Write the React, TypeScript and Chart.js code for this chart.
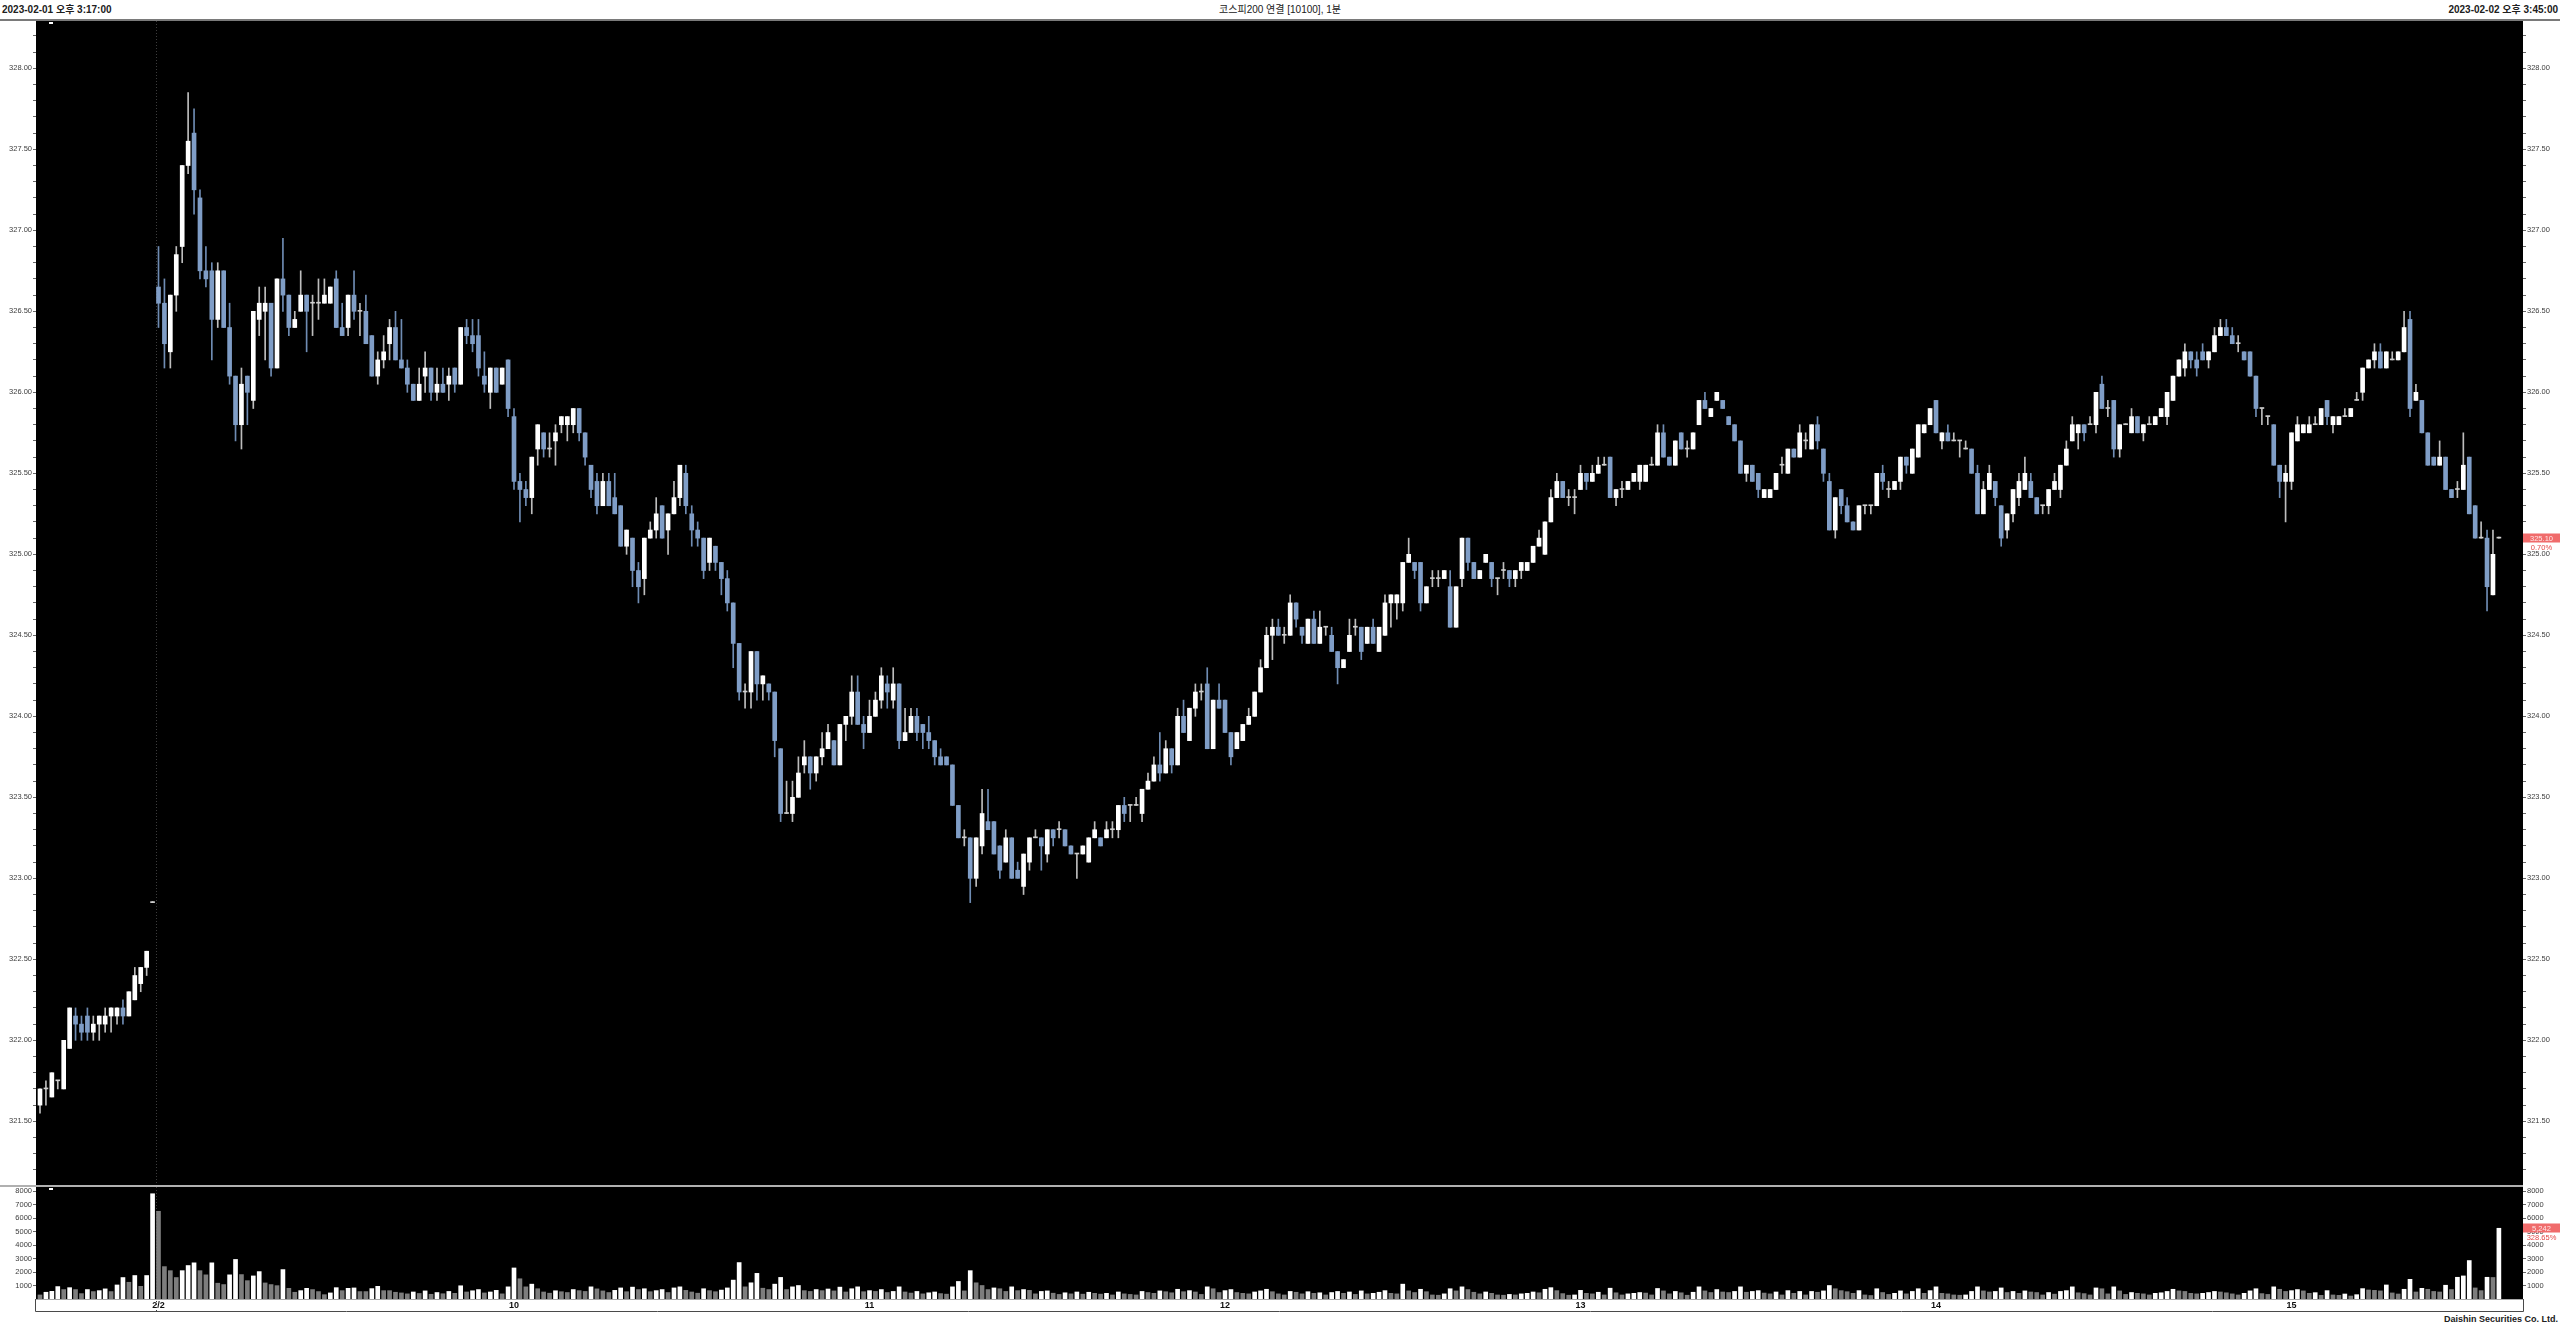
import React, { useEffect, useRef } from 'react';
import { Chart, registerables } from 'chart.js';
Chart.register(...registerables);

// ---- texts ----
const START_TEXT = '2023-02-01 오후 3:17:00';
const END_TEXT = '2023-02-02 오후 3:45:00';
const TITLE_TEXT = '코스피200 연결 [10100], 1분';
const FOOTER_TEXT = 'Daishin Securities Co. Ltd.';

// ---- axis tick labels ----
const X_TICK_AT = [20, 80, 140, 200, 260, 320, 380];
const X_TICK_LABELS = ['2/2', '10', '11', '12', '13', '14', '15'];
const VOL_TICKS = [1000, 2000, 3000, 4000, 5000, 6000, 7000, 8000];
const DAY_BREAK_AT = 19.5;
const PREV_DAY_LAST_INDEX = 19;

// ---- 1-minute OHLC (20 candles of 2/1, then 396 of 2/2) ----
const OPEN = [
  321.60, 321.70, 321.65, 321.75, 321.70, 321.95, 322.15, 322.10, 322.15, 322.05,
  322.10, 322.10, 322.15, 322.15, 322.20, 322.15, 322.25, 322.35, 322.45, 322.85,
  326.65, 326.55, 326.25, 326.60, 326.90, 327.40, 327.60, 327.20, 326.75, 326.75,
  326.45, 326.75, 326.40, 326.10, 325.80, 326.10, 325.95, 326.45, 326.50, 326.55,
  326.15, 326.70, 326.60, 326.40, 326.50, 326.60, 326.55, 326.55, 326.55, 326.55,
  326.70, 326.40, 326.40, 326.60, 326.50, 326.50, 326.35, 326.10, 326.20, 326.30,
  326.40, 326.20, 326.15, 326.05, 325.95, 326.10, 326.15, 326.00, 326.05, 326.05,
  326.15, 326.05, 326.40, 326.35, 326.35, 326.10, 326.00, 326.15, 326.05, 326.20,
  325.85, 325.45, 325.40, 325.35, 325.65, 325.75, 325.65, 325.70, 325.80, 325.80,
  325.80, 325.90, 325.75, 325.55, 325.45, 325.30, 325.45, 325.35, 325.30, 325.05,
  325.10, 324.90, 324.85, 325.10, 325.15, 325.30, 325.15, 325.25, 325.35, 325.50,
  325.25, 325.15, 325.10, 324.95, 325.05, 324.95, 324.85, 324.70, 324.45, 324.15,
  324.15, 324.40, 324.20, 324.20, 324.15, 323.80, 323.40, 323.40, 323.50, 323.70,
  323.75, 323.65, 323.75, 323.80, 323.85, 323.70, 323.95, 324.00, 324.15, 323.95,
  323.90, 324.00, 324.10, 324.20, 324.10, 324.20, 323.85, 323.90, 324.00, 323.95,
  323.90, 323.85, 323.75, 323.75, 323.70, 323.45, 323.25, 323.25, 323.00, 323.20,
  323.35, 323.35, 323.20, 323.10, 323.25, 323.05, 322.95, 323.10, 323.25, 323.25,
  323.15, 323.30, 323.30, 323.30, 323.20, 323.15, 323.15, 323.10, 323.25, 323.25,
  323.25, 323.30, 323.30, 323.45, 323.45, 323.45, 323.40, 323.55, 323.60, 323.70,
  323.65, 323.80, 323.70, 324.00, 323.85, 324.05, 324.15, 324.20, 323.80, 324.10,
  324.10, 323.90, 323.80, 323.85, 323.95, 324.00, 324.15, 324.30, 324.50, 324.55,
  324.50, 324.50, 324.70, 324.55, 324.45, 324.60, 324.45, 324.55, 324.50, 324.40,
  324.30, 324.40, 324.55, 324.55, 324.45, 324.55, 324.40, 324.50, 324.70, 324.70,
  324.70, 324.95, 324.95, 324.95, 324.70, 324.85, 324.85, 324.85, 324.80, 324.55,
  324.85, 325.10, 324.95, 324.85, 324.95, 324.95, 324.85, 324.90, 324.90, 324.85,
  324.90, 324.90, 324.95, 325.05, 325.00, 325.20, 325.35, 325.45, 325.35, 325.35,
  325.40, 325.50, 325.45, 325.50, 325.55, 325.60, 325.35, 325.40, 325.40, 325.45,
  325.45, 325.45, 325.55, 325.55, 325.75, 325.60, 325.55, 325.75, 325.65, 325.65,
  325.80, 325.95, 325.85, 325.95, 325.95, 325.85, 325.80, 325.70, 325.50, 325.55,
  325.50, 325.35, 325.35, 325.40, 325.55, 325.50, 325.65, 325.60, 325.70, 325.65,
  325.80, 325.65, 325.45, 325.15, 325.40, 325.30, 325.20, 325.15, 325.30, 325.30,
  325.30, 325.50, 325.40, 325.40, 325.45, 325.60, 325.50, 325.60, 325.75, 325.80,
  325.95, 325.70, 325.75, 325.70, 325.70, 325.65, 325.65, 325.50, 325.25, 325.40,
  325.45, 325.30, 325.15, 325.25, 325.35, 325.40, 325.45, 325.35, 325.30, 325.30,
  325.40, 325.40, 325.55, 325.70, 325.75, 325.80, 325.80, 325.80, 326.05, 325.90,
  325.95, 325.65, 325.80, 325.75, 325.85, 325.75, 325.80, 325.80, 325.85, 325.85,
  325.95, 326.10, 326.15, 326.25, 326.20, 326.25, 326.20, 326.25, 326.35, 326.40,
  326.35, 326.30, 326.25, 326.25, 326.10, 325.90, 325.85, 325.80, 325.55, 325.45,
  325.45, 325.70, 325.75, 325.75, 325.80, 325.80, 325.95, 325.80, 325.80, 325.85,
  325.85, 325.95, 326.00, 326.15, 326.20, 326.25, 326.15, 326.20, 326.20, 326.25,
  326.45, 325.95, 325.95, 325.75, 325.60, 325.55, 325.60, 325.40, 325.40, 325.40,
  325.60, 325.30, 325.10, 325.10, 324.75, 325.10,
];
const HIGH = [
  321.70, 321.75, 321.80, 321.75, 322.00, 322.20, 322.20, 322.15, 322.20, 322.15,
  322.15, 322.20, 322.20, 322.20, 322.25, 322.30, 322.45, 322.45, 322.55, 322.85,
  326.90, 326.70, 326.60, 326.90, 327.40, 327.85, 327.75, 327.25, 326.90, 326.80,
  326.80, 326.75, 326.55, 326.10, 326.15, 326.10, 326.50, 326.65, 326.65, 326.55,
  326.70, 326.95, 326.60, 326.50, 326.75, 326.60, 326.60, 326.70, 326.70, 326.65,
  326.75, 326.55, 326.60, 326.75, 326.55, 326.60, 326.35, 326.25, 326.35, 326.45,
  326.50, 326.45, 326.20, 326.05, 326.15, 326.25, 326.15, 326.15, 326.15, 326.15,
  326.15, 326.40, 326.45, 326.45, 326.45, 326.25, 326.15, 326.15, 326.15, 326.20,
  325.90, 325.50, 325.45, 325.60, 325.80, 325.75, 325.75, 325.80, 325.85, 325.85,
  325.90, 325.90, 325.75, 325.55, 325.50, 325.50, 325.50, 325.50, 325.30, 325.15,
  325.10, 324.95, 325.10, 325.20, 325.35, 325.30, 325.25, 325.45, 325.55, 325.55,
  325.30, 325.20, 325.10, 325.10, 325.05, 324.95, 324.90, 324.70, 324.45, 324.20,
  324.40, 324.40, 324.25, 324.20, 324.15, 323.80, 323.60, 323.60, 323.75, 323.85,
  323.75, 323.75, 323.90, 323.95, 323.85, 323.95, 324.00, 324.25, 324.25, 324.00,
  324.10, 324.15, 324.30, 324.25, 324.30, 324.20, 324.05, 324.05, 324.05, 323.95,
  324.00, 323.85, 323.80, 323.75, 323.70, 323.45, 323.30, 323.25, 323.25, 323.55,
  323.55, 323.35, 323.20, 323.30, 323.25, 323.10, 323.15, 323.25, 323.30, 323.25,
  323.30, 323.30, 323.35, 323.30, 323.20, 323.15, 323.20, 323.25, 323.35, 323.25,
  323.35, 323.35, 323.45, 323.50, 323.45, 323.50, 323.55, 323.65, 323.75, 323.90,
  323.85, 323.80, 324.05, 324.10, 324.05, 324.20, 324.20, 324.30, 324.10, 324.20,
  324.10, 323.90, 323.90, 323.95, 324.05, 324.15, 324.35, 324.55, 324.60, 324.60,
  324.55, 324.75, 324.70, 324.55, 324.60, 324.65, 324.65, 324.55, 324.55, 324.40,
  324.35, 324.60, 324.60, 324.55, 324.55, 324.60, 324.55, 324.75, 324.75, 324.75,
  324.95, 325.10, 324.95, 324.95, 324.80, 324.90, 324.90, 324.90, 324.90, 324.80,
  325.10, 325.10, 324.95, 324.90, 325.00, 324.95, 324.85, 324.95, 324.90, 324.90,
  324.95, 324.95, 325.05, 325.15, 325.20, 325.40, 325.50, 325.45, 325.40, 325.40,
  325.55, 325.50, 325.55, 325.60, 325.60, 325.60, 325.40, 325.45, 325.45, 325.50,
  325.55, 325.55, 325.60, 325.80, 325.80, 325.60, 325.70, 325.75, 325.70, 325.75,
  325.95, 326.00, 325.90, 326.00, 325.95, 325.85, 325.80, 325.70, 325.55, 325.55,
  325.50, 325.40, 325.40, 325.50, 325.60, 325.65, 325.65, 325.80, 325.75, 325.80,
  325.85, 325.65, 325.50, 325.35, 325.40, 325.35, 325.20, 325.30, 325.30, 325.30,
  325.50, 325.55, 325.45, 325.45, 325.60, 325.60, 325.65, 325.80, 325.80, 325.90,
  325.95, 325.75, 325.80, 325.75, 325.70, 325.70, 325.65, 325.55, 325.45, 325.55,
  325.45, 325.30, 325.25, 325.40, 325.50, 325.60, 325.50, 325.35, 325.30, 325.40,
  325.50, 325.55, 325.70, 325.85, 325.80, 325.80, 325.85, 326.00, 326.10, 325.95,
  325.95, 325.80, 325.80, 325.90, 325.85, 325.80, 325.85, 325.85, 325.90, 326.00,
  326.10, 326.20, 326.30, 326.25, 326.25, 326.30, 326.25, 326.40, 326.45, 326.45,
  326.40, 326.35, 326.25, 326.25, 326.10, 325.90, 325.85, 325.80, 325.55, 325.55,
  325.75, 325.85, 325.80, 325.85, 325.85, 325.90, 325.95, 325.85, 325.85, 325.90,
  325.90, 326.00, 326.15, 326.20, 326.30, 326.30, 326.25, 326.25, 326.25, 326.50,
  326.50, 326.05, 325.95, 325.75, 325.60, 325.70, 325.60, 325.40, 325.45, 325.75,
  325.60, 325.30, 325.20, 325.15, 325.15, 325.10,
];
const LOW = [
  321.55, 321.60, 321.65, 321.70, 321.70, 321.95, 322.00, 322.00, 322.00, 322.00,
  322.00, 322.05, 322.05, 322.10, 322.10, 322.15, 322.25, 322.30, 322.40, 322.85,
  326.40, 326.15, 326.15, 326.50, 326.80, 327.35, 327.10, 326.70, 326.65, 326.20,
  326.40, 326.40, 326.05, 325.70, 325.65, 325.80, 325.90, 326.35, 326.20, 326.10,
  326.15, 326.50, 326.35, 326.40, 326.50, 326.25, 326.35, 326.45, 326.55, 326.55,
  326.40, 326.35, 326.35, 326.45, 326.35, 326.30, 326.10, 326.05, 326.15, 326.20,
  326.20, 326.15, 326.00, 325.95, 325.95, 326.00, 325.95, 325.95, 326.00, 325.95,
  326.00, 326.05, 326.30, 326.25, 326.10, 326.00, 325.90, 326.00, 326.05, 325.85,
  325.40, 325.20, 325.30, 325.25, 325.55, 325.60, 325.60, 325.55, 325.75, 325.70,
  325.75, 325.70, 325.55, 325.35, 325.25, 325.30, 325.30, 325.25, 325.05, 325.00,
  324.80, 324.70, 324.75, 325.10, 325.10, 325.10, 325.00, 325.25, 325.30, 325.25,
  325.05, 325.05, 324.85, 324.90, 324.90, 324.75, 324.65, 324.30, 324.10, 324.05,
  324.05, 324.10, 324.10, 324.10, 323.75, 323.35, 323.40, 323.35, 323.50, 323.65,
  323.55, 323.60, 323.70, 323.80, 323.70, 323.70, 323.85, 323.95, 323.95, 323.80,
  323.90, 324.00, 324.05, 324.05, 324.05, 323.80, 323.85, 323.90, 323.85, 323.80,
  323.80, 323.70, 323.70, 323.70, 323.45, 323.25, 323.20, 322.85, 322.95, 323.15,
  323.30, 323.15, 323.00, 323.10, 323.00, 323.00, 322.90, 323.05, 323.25, 323.05,
  323.10, 323.20, 323.25, 323.20, 323.15, 323.00, 323.15, 323.10, 323.25, 323.20,
  323.25, 323.25, 323.25, 323.35, 323.35, 323.45, 323.35, 323.55, 323.60, 323.60,
  323.65, 323.65, 323.70, 323.90, 323.85, 324.00, 324.10, 323.80, 323.80, 324.05,
  323.90, 323.70, 323.80, 323.85, 323.95, 324.00, 324.15, 324.30, 324.35, 324.50,
  324.45, 324.50, 324.55, 324.45, 324.45, 324.45, 324.45, 324.50, 324.40, 324.20,
  324.30, 324.40, 324.50, 324.35, 324.45, 324.45, 324.40, 324.50, 324.55, 324.60,
  324.65, 324.95, 324.85, 324.65, 324.70, 324.80, 324.80, 324.85, 324.55, 324.55,
  324.80, 324.90, 324.85, 324.85, 324.95, 324.80, 324.75, 324.85, 324.80, 324.80,
  324.85, 324.90, 324.95, 325.05, 325.00, 325.20, 325.35, 325.35, 325.30, 325.25,
  325.40, 325.40, 325.45, 325.50, 325.55, 325.35, 325.30, 325.35, 325.40, 325.45,
  325.40, 325.45, 325.55, 325.55, 325.60, 325.55, 325.55, 325.65, 325.60, 325.65,
  325.80, 325.90, 325.85, 325.95, 325.90, 325.80, 325.70, 325.50, 325.45, 325.45,
  325.35, 325.35, 325.35, 325.40, 325.50, 325.50, 325.60, 325.60, 325.65, 325.65,
  325.65, 325.45, 325.15, 325.10, 325.25, 325.20, 325.15, 325.15, 325.25, 325.25,
  325.30, 325.40, 325.35, 325.40, 325.40, 325.50, 325.50, 325.60, 325.75, 325.80,
  325.75, 325.65, 325.70, 325.70, 325.60, 325.65, 325.50, 325.25, 325.25, 325.40,
  325.30, 325.05, 325.10, 325.20, 325.30, 325.40, 325.35, 325.25, 325.25, 325.25,
  325.40, 325.35, 325.55, 325.70, 325.65, 325.70, 325.80, 325.75, 325.90, 325.85,
  325.60, 325.60, 325.80, 325.75, 325.75, 325.70, 325.80, 325.80, 325.85, 325.80,
  325.95, 326.10, 326.10, 326.15, 326.10, 326.20, 326.15, 326.25, 326.35, 326.35,
  326.30, 326.25, 326.20, 326.10, 325.85, 325.80, 325.80, 325.55, 325.35, 325.20,
  325.40, 325.70, 325.75, 325.75, 325.80, 325.80, 325.80, 325.75, 325.80, 325.85,
  325.85, 325.95, 325.95, 326.15, 326.15, 326.15, 326.15, 326.20, 326.20, 326.25,
  325.85, 325.95, 325.75, 325.55, 325.55, 325.55, 325.40, 325.35, 325.35, 325.40,
  325.25, 325.10, 325.10, 324.65, 324.75, 325.10,
];
const CLOSE = [
  321.70, 321.70, 321.80, 321.75, 322.00, 322.20, 322.10, 322.05, 322.05, 322.10,
  322.15, 322.15, 322.20, 322.20, 322.15, 322.30, 322.40, 322.45, 322.55, 322.85,
  326.55, 326.30, 326.60, 326.85, 327.40, 327.55, 327.25, 326.75, 326.70, 326.45,
  326.75, 326.40, 326.10, 325.80, 326.05, 326.00, 326.50, 326.55, 326.55, 326.15,
  326.70, 326.60, 326.40, 326.45, 326.60, 326.50, 326.55, 326.55, 326.60, 326.65,
  326.40, 326.35, 326.60, 326.50, 326.50, 326.30, 326.10, 326.20, 326.25, 326.40,
  326.20, 326.15, 326.05, 325.95, 326.05, 326.15, 326.00, 326.05, 326.00, 326.10,
  326.05, 326.40, 326.35, 326.30, 326.15, 326.05, 326.15, 326.00, 326.15, 325.90,
  325.45, 325.40, 325.35, 325.60, 325.80, 325.65, 325.65, 325.75, 325.85, 325.85,
  325.90, 325.75, 325.60, 325.40, 325.30, 325.45, 325.30, 325.25, 325.05, 325.15,
  324.90, 324.80, 325.10, 325.15, 325.25, 325.10, 325.25, 325.35, 325.55, 325.30,
  325.15, 325.10, 324.90, 325.10, 324.95, 324.85, 324.70, 324.45, 324.15, 324.15,
  324.40, 324.20, 324.25, 324.15, 323.85, 323.40, 323.40, 323.50, 323.65, 323.75,
  323.65, 323.75, 323.80, 323.90, 323.70, 323.95, 324.00, 324.15, 323.95, 323.90,
  324.00, 324.10, 324.25, 324.15, 324.20, 323.85, 323.90, 324.00, 323.90, 323.90,
  323.85, 323.75, 323.70, 323.70, 323.45, 323.25, 323.25, 323.00, 323.25, 323.40,
  323.30, 323.15, 323.05, 323.25, 323.00, 323.00, 323.15, 323.25, 323.25, 323.20,
  323.30, 323.25, 323.30, 323.20, 323.15, 323.15, 323.20, 323.25, 323.30, 323.20,
  323.30, 323.30, 323.45, 323.40, 323.45, 323.45, 323.55, 323.60, 323.70, 323.65,
  323.80, 323.70, 324.00, 323.90, 324.05, 324.15, 324.15, 323.80, 324.10, 324.05,
  323.90, 323.75, 323.90, 323.95, 324.00, 324.15, 324.30, 324.50, 324.55, 324.50,
  324.50, 324.70, 324.60, 324.50, 324.60, 324.45, 324.55, 324.55, 324.40, 324.30,
  324.35, 324.50, 324.55, 324.40, 324.55, 324.45, 324.55, 324.70, 324.75, 324.75,
  324.95, 325.00, 324.90, 324.70, 324.80, 324.85, 324.85, 324.90, 324.55, 324.80,
  325.10, 324.95, 324.85, 324.90, 325.00, 324.85, 324.85, 324.90, 324.85, 324.90,
  324.95, 324.95, 325.05, 325.10, 325.20, 325.35, 325.45, 325.35, 325.35, 325.35,
  325.50, 325.45, 325.50, 325.55, 325.55, 325.35, 325.40, 325.40, 325.45, 325.50,
  325.55, 325.55, 325.55, 325.75, 325.60, 325.55, 325.70, 325.65, 325.65, 325.75,
  325.95, 325.90, 325.90, 326.00, 325.90, 325.80, 325.70, 325.50, 325.55, 325.45,
  325.40, 325.40, 325.40, 325.50, 325.55, 325.65, 325.60, 325.75, 325.70, 325.80,
  325.70, 325.50, 325.15, 325.35, 325.30, 325.20, 325.15, 325.30, 325.30, 325.30,
  325.50, 325.45, 325.40, 325.45, 325.60, 325.55, 325.65, 325.80, 325.80, 325.90,
  325.75, 325.75, 325.70, 325.70, 325.70, 325.65, 325.50, 325.25, 325.40, 325.50,
  325.35, 325.10, 325.25, 325.40, 325.45, 325.50, 325.35, 325.25, 325.30, 325.40,
  325.45, 325.55, 325.65, 325.80, 325.80, 325.75, 325.80, 326.00, 325.90, 325.90,
  325.65, 325.80, 325.80, 325.85, 325.75, 325.80, 325.80, 325.85, 325.90, 326.00,
  326.10, 326.20, 326.25, 326.20, 326.15, 326.20, 326.25, 326.35, 326.40, 326.35,
  326.30, 326.30, 326.20, 326.10, 325.90, 325.90, 325.85, 325.55, 325.45, 325.50,
  325.75, 325.80, 325.80, 325.80, 325.80, 325.90, 325.85, 325.85, 325.85, 325.85,
  325.90, 325.95, 326.15, 326.20, 326.25, 326.15, 326.25, 326.20, 326.25, 326.40,
  325.90, 326.00, 325.75, 325.55, 325.55, 325.60, 325.40, 325.35, 325.40, 325.55,
  325.25, 325.10, 325.10, 324.80, 325.00, 325.10,
];
const VOLUME = [
  300, 500, 570, 920, 700, 840, 700, 400, 700, 550,
  620, 750, 550, 1040, 1590, 1240, 1740, 940, 1740, 7800,
  6500, 2400, 2100, 1590, 2100, 2480, 2680, 2100, 1790, 2680,
  1170, 1070, 1790, 2930, 1810, 1360, 1710, 2030, 1190, 1070,
  990, 2180, 790, 500, 620, 790, 700, 550, 320, 450,
  840, 620, 790, 820, 550, 550, 770, 940, 620, 620,
  500, 450, 380, 520, 410, 600, 350, 480, 390, 560,
  420, 980, 520, 610, 700, 450, 520, 640, 380, 900,
  2300, 1500, 900, 1100, 760, 520, 430, 610, 540, 480,
  700, 620, 560, 900, 750, 600, 480, 640, 820, 540,
  880, 700, 760, 540, 620, 700, 480, 820, 900, 640,
  520, 430, 760, 620, 540, 660, 820, 1400, 2700, 900,
  1200, 1900, 800, 700, 1100, 1600, 700, 900, 1000, 620,
  560, 700, 620, 740, 600, 880, 520, 760, 900, 540,
  620, 560, 700, 480, 560, 900, 520, 440, 560, 380,
  460, 520, 400, 360, 900, 1300, 600, 2100, 1200, 1000,
  700, 820, 760, 560, 900, 620, 700, 640, 380, 560,
  600, 430, 340, 460, 380, 520, 360, 500, 420, 360,
  420, 300, 520, 380, 340, 300, 560, 480, 420, 600,
  540, 460, 720, 540, 620, 520, 340, 900, 760, 480,
  620, 700, 480, 420, 380, 520, 600, 720, 540, 380,
  300, 560, 500, 380, 540, 420, 460, 300, 480, 560,
  420, 520, 340, 600, 380, 420, 500, 620, 420, 380,
  1100, 600, 480, 720, 540, 300, 280, 380, 760, 600,
  900, 700, 500, 380, 520, 420, 300, 280, 340, 300,
  380, 420, 520, 460, 720, 840, 620, 400, 280, 300,
  640, 420, 380, 500, 300, 800, 460, 300, 380, 420,
  480, 440, 300, 780, 600, 380, 560, 460, 280, 500,
  900, 600, 480, 700, 520, 480, 560, 900, 500, 560,
  620, 440, 380, 520, 300, 620, 420, 560, 300, 560,
  500, 600, 1000, 760, 620, 540, 420, 620, 300, 260,
  760, 480, 340, 420, 600, 380, 560, 760, 420, 620,
  900, 420, 380, 300, 280, 300, 560, 900, 600, 520,
  560, 820, 480, 560, 420, 600, 520, 480, 300, 480,
  360, 560, 620, 900, 460, 400, 300, 820, 760, 380,
  900, 600, 340, 480, 420, 380, 300, 420, 460, 560,
  720, 600, 560, 420, 380, 420, 480, 560, 520, 460,
  380, 300, 420, 600, 760, 400, 340, 900, 720, 560,
  620, 700, 600, 420, 470, 270, 620, 300, 270, 370,
  220, 320, 770, 670, 640, 600, 1040, 450, 370, 720,
  1460, 520, 790, 720, 560, 520, 1020, 700, 1610, 1710,
  2850, 820, 620, 1610, 1595, 5242,
];

// ---- layout constants ----
const PAGE_W = 2560;
const PAGE_H = 1328;
const PLOT_LEFT = 36;
const PLOT_RIGHT = 2523;
const PRICE_TOP = 21;
const PRICE_BOTTOM = 1185;
const VOL_TOP = 1187;
const VOL_CANVAS_H = 125;
const X_MIN = -0.675;
const X_MAX = 419.07;
const PRICE_MIN = 321.107;
const PRICE_MAX = 328.292;
const VOL_MAX = 8300;

const UP_BODY = '#ffffff';
const DOWN_BODY = '#7f9dc6';
const FLAT_BODY = '#d0d0d0';
const UP_WICK = '#bdbdbd';
const DOWN_WICK = '#6f8cb3';
const VOL_UP = '#ffffff';
const VOL_DOWN = '#7d7d7d';
const AXIS_FONT = { family: '"Liberation Sans", Arial, sans-serif', size: 7.5 };
const TICK_COLOR = '#3c3c3c';
const RED_BOX = '#f06b6b';
const RED_TEXT = '#e24848';

function zeroPadding(s: any) {
  s.paddingTop = 0;
  s.paddingBottom = 0;
  s.paddingLeft = 0;
  s.paddingRight = 0;
}

function sideAxis(position: 'left' | 'right', min: number, max: number, step: number, fmt: (v: number) => string, fixedTicks?: number[]) {
  const axis: any = {
    type: 'linear',
    position,
    min,
    max,
    afterFit: (s: any) => {
      s.width = position === 'left' ? PLOT_LEFT : PAGE_W - PLOT_RIGHT;
      zeroPadding(s);
    },
    border: { display: false },
    grid: { drawOnChartArea: false, drawTicks: true, tickLength: 3, color: '#666666', lineWidth: 1 },
    ticks: {
      stepSize: step,
      autoSkip: false,
      includeBounds: false,
      padding: 1,
      color: TICK_COLOR,
      font: AXIS_FONT,
      callback: (v: any) => fmt(Number(v)),
    },
  };
  if (fixedTicks) {
    axis.afterBuildTicks = (s: any) => { s.ticks = fixedTicks.map((v) => ({ value: v })); };
  }
  return axis;
}

function markerLabel(ctx: CanvasRenderingContext2D, left: number, y: number, boxText: string, subText: string) {
  ctx.save();
  ctx.fillStyle = RED_BOX;
  ctx.fillRect(left, Math.round(y) - 4.5, PAGE_W - left, 9);
  ctx.font = '7.5px "Liberation Sans", Arial, sans-serif';
  ctx.textAlign = 'center';
  ctx.textBaseline = 'middle';
  const cx = left + (PAGE_W - left) / 2;
  ctx.fillStyle = '#ffe8e8';
  ctx.fillText(boxText, cx, Math.round(y) + 0.5);
  ctx.fillStyle = RED_TEXT;
  ctx.fillText(subText, cx, Math.round(y) + 9.5);
  ctx.restore();
}

export default function App() {
  const priceRef = useRef<HTMLCanvasElement>(null);
  const volRef = useRef<HTMLCanvasElement>(null);

  useEffect(() => {
    const idx = CLOSE.map((_, i) => i);
    const bodyColors = idx.map((i) => (CLOSE[i] > OPEN[i] ? UP_BODY : CLOSE[i] < OPEN[i] ? DOWN_BODY : FLAT_BODY));
    const wickColors = idx.map((i) => (CLOSE[i] < OPEN[i] ? DOWN_WICK : UP_WICK));
    const volColors = idx.map((i) => (i > 0 && VOLUME[i] > VOLUME[i - 1] ? VOL_UP : VOL_DOWN));
    const last = CLOSE.length - 1;
    const prevDayClose = CLOSE[PREV_DAY_LAST_INDEX];
    const pct = ((CLOSE[last] - prevDayClose) / prevDayClose) * 100;
    const volPct = (VOLUME[last] / VOLUME[last - 1]) * 100;

    const priceFmt = (v: number) => (Math.abs(v * 2 - Math.round(v * 2)) < 1e-6 ? v.toFixed(2) : '');
    const volFmt = (v: number) => (v > 0 ? String(Math.round(v)) : '');

    const dayBreakPlugin = {
      id: 'dayBreak',
      beforeDatasetsDraw(chart: any) {
        const { ctx, chartArea, scales } = chart;
        const x = Math.round(scales.x.getPixelForValue(DAY_BREAK_AT)) + 0.5;
        ctx.save();
        ctx.strokeStyle = '#3c3c3c';
        ctx.lineWidth = 1;
        ctx.setLineDash([1, 2]);
        ctx.beginPath();
        ctx.moveTo(x, chartArea.top);
        ctx.lineTo(x, chart.height);
        ctx.stroke();
        ctx.restore();
      },
    };
    const bgPlugin = {
      id: 'bg',
      beforeDraw(chart: any) {
        const { ctx, chartArea } = chart;
        ctx.save();
        ctx.fillStyle = '#000000';
        ctx.fillRect(chartArea.left, chartArea.top, chartArea.right - chartArea.left, chartArea.bottom - chartArea.top);
        ctx.fillStyle = '#ffffff';
        ctx.fillRect(chartArea.left + 13, chartArea.top + 1, 4, 2);
        ctx.restore();
      },
    };

    const priceChart = new Chart(priceRef.current as HTMLCanvasElement, {
      type: 'bar',
      data: {
        datasets: [
          {
            label: 'wick',
            data: idx.map((i) => ({ x: i, y: [LOW[i], HIGH[i]] })) as any,
            backgroundColor: wickColors,
            barThickness: 1,
            minBarLength: 1,
            grouped: false,
            order: 2,
          },
          {
            label: 'body',
            data: idx.map((i) => ({ x: i, y: [OPEN[i], CLOSE[i]] })) as any,
            backgroundColor: bodyColors,
            barThickness: 4,
            minBarLength: 1,
            grouped: false,
            order: 1,
          },
        ],
      },
      options: {
        animation: false,
        responsive: false,
        devicePixelRatio: 1,
        layout: { padding: 0 },
        plugins: { legend: { display: false }, tooltip: { enabled: false } },
        scales: {
          x: { type: 'linear', min: X_MIN, max: X_MAX, display: false, offset: false },
          y: sideAxis('left', PRICE_MIN, PRICE_MAX, 0.1, priceFmt),
          y2: sideAxis('right', PRICE_MIN, PRICE_MAX, 0.1, priceFmt),
        },
      },
      plugins: [
        bgPlugin,
        dayBreakPlugin,
        {
          id: 'priceLabel',
          afterDraw(chart: any) {
            const y = chart.scales.y.getPixelForValue(CLOSE[last]);
            markerLabel(chart.ctx, chart.chartArea.right, y, CLOSE[last].toFixed(2), pct.toFixed(2) + '%');
          },
        },
      ],
    } as any);

    const volChart = new Chart(volRef.current as HTMLCanvasElement, {
      type: 'bar',
      data: {
        datasets: [
          {
            label: 'volume',
            data: idx.map((i) => ({ x: i, y: VOLUME[i] })) as any,
            backgroundColor: volColors,
            barThickness: 4,
            grouped: false,
          },
        ],
      },
      options: {
        animation: false,
        responsive: false,
        devicePixelRatio: 1,
        layout: { padding: 0 },
        plugins: { legend: { display: false }, tooltip: { enabled: false } },
        scales: {
          x: {
            type: 'linear',
            display: true,
            min: X_MIN,
            max: X_MAX,
            offset: false,
            afterFit: (s: any) => { s.height = 13; zeroPadding(s); },
            afterBuildTicks: (s: any) => { s.ticks = X_TICK_AT.map((v) => ({ value: v })); },
            grid: { display: false, drawTicks: false, tickLength: 0 },
            border: { display: true, color: '#a8a8a8', width: 1 },
            ticks: {
              display: true,
              autoSkip: false,
              maxRotation: 0,
              padding: 1,
              color: '#111111',
              font: { family: '"Liberation Sans", Arial, sans-serif', size: 9, weight: 'bold' },
              callback: (v: any) => {
                const k = X_TICK_AT.indexOf(Math.round(Number(v)));
                return k >= 0 ? X_TICK_LABELS[k] : '';
              },
            },
          },
          y: sideAxis('left', 0, VOL_MAX, 1000, volFmt, VOL_TICKS),
          y2: sideAxis('right', 0, VOL_MAX, 1000, volFmt, VOL_TICKS),
        },
      },
      plugins: [
        bgPlugin,
        dayBreakPlugin,
        {
          id: 'volFrame',
          afterDraw(chart: any) {
            const { ctx, chartArea } = chart;
            ctx.save();
            ctx.strokeStyle = '#4a4a4a';
            ctx.lineWidth = 1;
            ctx.beginPath();
            ctx.moveTo(chartArea.left - 0.5, chartArea.bottom);
            ctx.lineTo(chartArea.left - 0.5, chart.height - 0.5);
            ctx.lineTo(chartArea.right + 0.5, chart.height - 0.5);
            ctx.lineTo(chartArea.right + 0.5, chartArea.bottom);
            ctx.stroke();
            ctx.restore();
            const y = chart.scales.y.getPixelForValue(VOLUME[last]);
            markerLabel(ctx, chartArea.right, y, VOLUME[last].toLocaleString('en-US'), volPct.toFixed(2) + '%');
          },
        },
      ],
    } as any);

    return () => {
      priceChart.destroy();
      volChart.destroy();
    };
  }, []);

  const headFont = '"Liberation Sans", "Noto Sans CJK KR", Arial, sans-serif';
  return (
    <div style={{ position: 'absolute', left: 0, top: 0, width: PAGE_W, height: PAGE_H, background: '#ffffff', overflow: 'hidden' }}>
      <div style={{ position: 'absolute', left: 2, top: 3, fontFamily: headFont, fontSize: 10, fontWeight: 'bold', lineHeight: '13px', color: '#202020', whiteSpace: 'nowrap' }}>{START_TEXT}</div>
      <div style={{ position: 'absolute', left: 0, width: PAGE_W, top: 3, textAlign: 'center', fontFamily: headFont, fontSize: 10, lineHeight: '13px', color: '#202020', whiteSpace: 'nowrap' }}>{TITLE_TEXT}</div>
      <div style={{ position: 'absolute', right: 2, top: 3, fontFamily: headFont, fontSize: 10, fontWeight: 'bold', lineHeight: '13px', color: '#202020', whiteSpace: 'nowrap' }}>{END_TEXT}</div>
      <div style={{ position: 'absolute', left: 0, top: 19, width: PAGE_W, height: 2, background: '#7a7a7a' }} />
      <canvas ref={priceRef} width={PAGE_W} height={PRICE_BOTTOM - PRICE_TOP} style={{ position: 'absolute', left: 0, top: PRICE_TOP, width: PAGE_W, height: PRICE_BOTTOM - PRICE_TOP }} />
      <div style={{ position: 'absolute', left: 0, top: 1185, width: PLOT_RIGHT, height: 2, background: '#b0b0b0' }} />
      <canvas ref={volRef} width={PAGE_W} height={VOL_CANVAS_H} style={{ position: 'absolute', left: 0, top: VOL_TOP, width: PAGE_W, height: VOL_CANVAS_H }} />
      <div style={{ position: 'absolute', right: 2, top: 1313, fontFamily: '"Liberation Sans", Arial, sans-serif', fontSize: 9, fontWeight: 'bold', lineHeight: '13px', color: '#202020', whiteSpace: 'nowrap' }}>{FOOTER_TEXT}</div>
    </div>
  );
}
